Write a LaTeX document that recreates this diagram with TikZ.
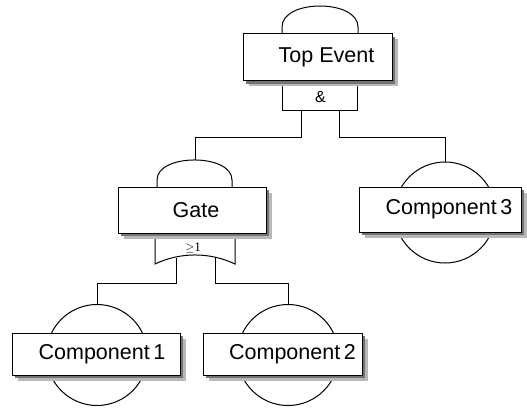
\documentclass[tikz,border=0pt]{standalone}
\usepackage{fontspec}
\setmainfont{Liberation Sans}
\newfontfamily\gateserif{Liberation Serif}
\begin{document}
\begin{tikzpicture}[x=1pt,y=-1pt,line width=1pt,
  evbox/.style={draw, fill=white, rectangle, inner sep=0pt,
    font=\fontsize{21.5}{24}\selectfont,
    preaction={fill=black!28, transform canvas={shift={(5.5pt,-5.5pt)}}},
    preaction={fill=black!55, transform canvas={shift={(3pt,-3pt)}}}},
  evcircle/.style={draw, circle, minimum size=101pt, inner sep=0pt},
  gatebox/.style={draw, rectangle, inner sep=0pt},
]
\useasboundingbox (0,0) rectangle (527,409);

% basic events: circles behind their label boxes
\node[evcircle] (c1) at (97,355) {};
\node[evcircle] (c2) at (288,355) {};
\node[evcircle] (c3) at (445,212.5) {};

% domes on top of the intermediate events
\draw (282,34) -- (282,27) .. controls (282,-1) and (358,-1) .. (358,27) -- (358,34);
\draw (157,187) -- (157,180) .. controls (157,153.3) and (232,153.3) .. (232,180) -- (232,187);
\coordinate (gatein) at (195,160);

% AND gate under the top event
\node[gatebox, minimum width=75pt, minimum height=30pt] (and) at (319.5,95.5) {};
\node[font=\fontsize{16}{16}\selectfont, inner sep=0pt] (andlabel) at (320.5,97.5) {\&};
\coordinate (andL) at (301,110);
\coordinate (andR) at (339,110);

% OR gate under the intermediate event
\draw (155,233) -- (155,264) .. controls (180.35,251.96) and (209.65,251.96) .. (235,264) -- (235,233);
\node[font=\gateserif\fontsize{13}{13}\selectfont, inner sep=0pt] (orlabel) at (193,248.5) {$\geq$1};
\coordinate (orL) at (176,257.5);
\coordinate (orR) at (215,257.5);

% event boxes
\node[evbox, minimum width=149pt, minimum height=47pt] (top) at (317.5,57.5) {\hspace{18pt}Top Event};
\node[evbox, minimum width=148pt, minimum height=46pt] (gate) at (192,210) {\hspace{8pt}Gate};
\node[evbox, minimum width=168pt, minimum height=42pt] (comp1) at (96,354) {\hspace{12pt}Component\,1};
\node[evbox, minimum width=159pt, minimum height=42pt] (comp2) at (282.5,354) {\hspace{20pt}Component\,2};
\node[evbox, minimum width=162pt, minimum height=45pt] (comp3) at (440,209.5) {\hspace{18pt}Component\,3};

% connectors
\coordinate (busA) at (0,137);
\coordinate (busB) at (0,283);
\draw (andL) -- (andL |- busA) -| (gatein);
\draw (andR) -- (andR |- busA) -| (c3.north);
\draw (orL) -- (orL |- busB) -| (c1.north);
\draw (orR) -- (orR |- busB) -| (c2.north);
\end{tikzpicture}
\end{document}
